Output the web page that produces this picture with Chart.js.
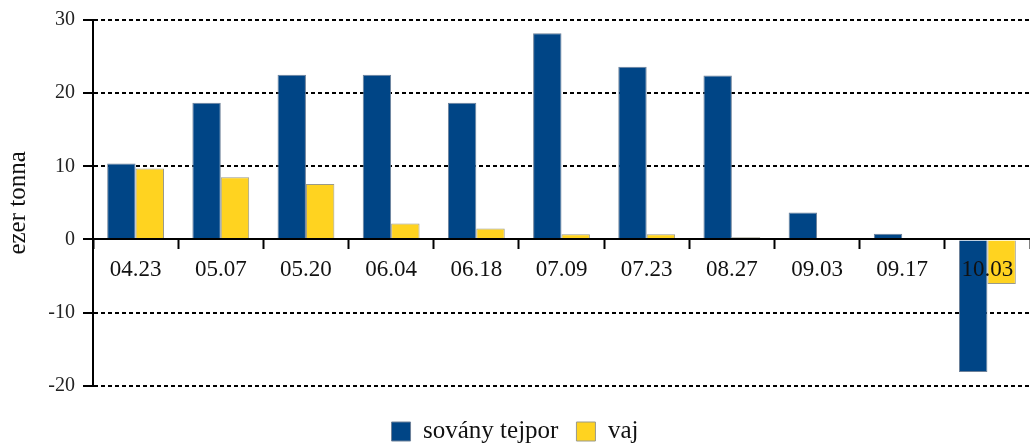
<!DOCTYPE html>
<html>
<head>
<meta charset="utf-8">
<script src="https://cdn.jsdelivr.net/npm/chart.js@4/dist/chart.umd.min.js"></script>
<style>
  html, body { margin: 0; padding: 0; background: #fff; }
  #wrap { width: 1030px; height: 444px; position: relative; }
</style>
</head>
<body>
<div id="wrap"><canvas id="c" width="1030" height="444"></canvas></div>
<script>
const categories = ['04.23', '05.07', '05.20', '06.04', '06.18', '07.09', '07.23', '08.27', '09.03', '09.17', '10.03'];
const skimMilkPowder = [10.4, 18.7, 22.5, 22.5, 18.7, 28.2, 23.6, 22.4, 3.7, 0.8, -18.1];
const butter = [9.7, 8.5, 7.6, 2.2, 1.5, 0.7, 0.7, 0.3, 0, 0, -6.1];
const seriesNames = ['sovány tejpor', 'vaj'];
const yTicks = [-20, -10, 0, 10, 20, 30];
const yTitle = 'ezer tonna';

const serif = "'Liberation Serif', 'DejaVu Serif', serif";

new Chart(document.getElementById('c'), {
  type: 'bar',
  data: {
    labels: categories,
    datasets: [
      { label: seriesNames[0], data: skimMilkPowder, backgroundColor: '#004586', borderColor: '#6d8199', borderWidth: 1, categoryPercentage: 0.667, barPercentage: 1 },
      { label: seriesNames[1], data: butter, backgroundColor: '#ffd320', borderColor: '#9a9a8a', borderWidth: 1, categoryPercentage: 0.667, barPercentage: 1 }
    ]
  },
  options: {
    responsive: false,
    animation: false,
    layout: { padding: { top: 12, right: 0, left: 0, bottom: -10 } },
    plugins: {
      legend: {
        position: 'bottom',
        title: { display: true, text: '', font: { size: 1 }, padding: { top: 0, bottom: 14 } },
        labels: {
          font: { family: serif, size: 25 },
          color: '#111',
          boxWidth: 19,
          boxHeight: 19,
          padding: 18
        }
      },
      tooltip: { enabled: false }
    },
    scales: {
      x: {
        position: { y: 0 },
        grid: { drawOnChartArea: false, drawTicks: true, tickLength: 9, tickColor: '#000', tickWidth: 2, color: '#000', offset: true },
        border: { display: true, color: '#000', width: 2, z: 1 },
        ticks: { font: { family: serif, size: 23 }, color: '#111', padding: 8, maxRotation: 0, autoSkip: false, z: 1 }
      },
      y: {
        min: -20,
        max: 30,
        afterBuildTicks: s => { s.ticks = yTicks.map(v => ({ value: v })); },
        afterFit: s => { s.width = 93; },
        grid: { color: '#000', lineWidth: 2, tickColor: '#000', tickWidth: 2, tickLength: 10, drawTicks: true },
        border: { display: true, color: '#000', width: 2, dash: [4, 3] },
        ticks: { font: { family: serif, size: 20 }, color: '#222', padding: 8 },
        title: { display: true, text: yTitle, font: { family: serif, size: 25 }, color: '#111', padding: { top: 3, bottom: 0 } }
      }
    }
  }
});
</script>
</body>
</html>
